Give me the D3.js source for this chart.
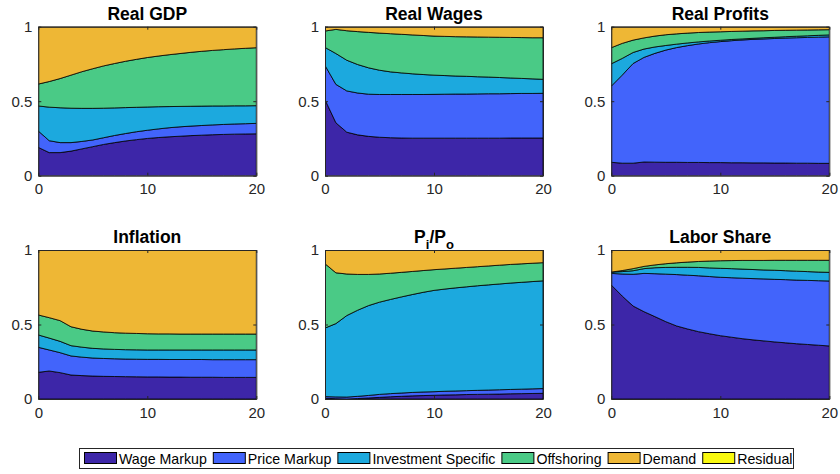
<!DOCTYPE html>
<html>
<head>
<meta charset="utf-8">
<script src="https://cdn.jsdelivr.net/npm/d3@7"></script>
<style>
  body { margin: 0; background: #fff; }
  svg text { font-family: "Liberation Sans", Arial, Helvetica, sans-serif; }
</style>
</head>
<body>
<svg id="chart" width="840" height="474"></svg>
<script>
  // horizon (quarters) and the decomposition shares
  var horizon = [0, 1, 2, 3, 4, 5, 6, 7, 8, 9, 10, 11, 12, 13, 14, 15, 16, 17, 18, 19, 20];
  var seriesNames = ['Wage Markup', 'Price Markup', 'Investment Specific', 'Offshoring', 'Demand', 'Residual'];
  var seriesColors = ['#3d26a8', '#4264fb', '#1ca9de', '#4aca86', '#eeb735', '#f9f90f'];
  var panelTitles = ['Real GDP', 'Real Wages', 'Real Profits', 'Inflation', 'P_i/P_o', 'Labor Share'];
  var xTicks = [0, 10, 20];
  var yTicks = [0, 0.5, 1];

  var residual = [0, 0, 0, 0, 0, 0, 0, 0, 0, 0, 0, 0, 0, 0, 0, 0, 0, 0, 0, 0, 0];

  var realGdp = [
    [0.19, 0.155, 0.155, 0.165, 0.18, 0.195, 0.21, 0.222, 0.233, 0.242, 0.25, 0.256, 0.261, 0.265, 0.269, 0.272, 0.275, 0.277, 0.279, 0.28, 0.281],
    [0.11, 0.08, 0.067, 0.057, 0.05, 0.045, 0.045, 0.048, 0.05, 0.053, 0.055, 0.058, 0.061, 0.063, 0.064, 0.065, 0.066, 0.067, 0.068, 0.069, 0.07],
    [0.168, 0.225, 0.234, 0.231, 0.222, 0.212, 0.198, 0.185, 0.174, 0.164, 0.156, 0.149, 0.142, 0.137, 0.133, 0.13, 0.127, 0.124, 0.122, 0.12, 0.119],
    [0.147, 0.172, 0.196, 0.222, 0.246, 0.266, 0.284, 0.298, 0.311, 0.322, 0.332, 0.34, 0.348, 0.355, 0.362, 0.368, 0.373, 0.378, 0.382, 0.386, 0.389],
    [0.385, 0.368, 0.348, 0.325, 0.302, 0.282, 0.263, 0.247, 0.232, 0.219, 0.207, 0.197, 0.188, 0.18, 0.172, 0.165, 0.159, 0.154, 0.149, 0.145, 0.141],
    residual
  ];

  var realWages = [
    [0.51, 0.355, 0.292, 0.274, 0.264, 0.258, 0.255, 0.253, 0.252, 0.252, 0.252, 0.252, 0.252, 0.252, 0.252, 0.252, 0.252, 0.253, 0.253, 0.253, 0.253],
    [0.23, 0.258, 0.277, 0.281, 0.283, 0.287, 0.29, 0.292, 0.293, 0.293, 0.294, 0.295, 0.296, 0.296, 0.297, 0.298, 0.298, 0.298, 0.299, 0.299, 0.3],
    [0.121, 0.207, 0.206, 0.191, 0.177, 0.163, 0.152, 0.145, 0.139, 0.134, 0.129, 0.125, 0.121, 0.119, 0.115, 0.112, 0.109, 0.105, 0.101, 0.098, 0.094],
    [0.11, 0.162, 0.198, 0.221, 0.238, 0.249, 0.256, 0.259, 0.261, 0.262, 0.262, 0.263, 0.264, 0.265, 0.267, 0.268, 0.27, 0.272, 0.274, 0.276, 0.279],
    [0.029, 0.018, 0.027, 0.033, 0.038, 0.043, 0.047, 0.051, 0.055, 0.059, 0.063, 0.065, 0.067, 0.068, 0.069, 0.07, 0.071, 0.072, 0.073, 0.074, 0.074],
    residual
  ];

  var realProfits = [
    [0.09, 0.084, 0.084, 0.092, 0.091, 0.09, 0.09, 0.089, 0.089, 0.088, 0.088, 0.087, 0.087, 0.086, 0.086, 0.085, 0.085, 0.084, 0.084, 0.083, 0.083],
    [0.511, 0.591, 0.669, 0.702, 0.73, 0.753, 0.77, 0.784, 0.795, 0.805, 0.812, 0.819, 0.824, 0.829, 0.832, 0.836, 0.839, 0.842, 0.844, 0.847, 0.849],
    [0.15, 0.112, 0.074, 0.056, 0.043, 0.031, 0.023, 0.018, 0.014, 0.011, 0.009, 0.008, 0.007, 0.007, 0.008, 0.008, 0.009, 0.01, 0.011, 0.012, 0.013],
    [0.108, 0.101, 0.083, 0.075, 0.073, 0.072, 0.069, 0.066, 0.063, 0.06, 0.057, 0.054, 0.052, 0.05, 0.047, 0.046, 0.043, 0.041, 0.039, 0.037, 0.035],
    [0.141, 0.112, 0.09, 0.075, 0.063, 0.054, 0.048, 0.043, 0.039, 0.036, 0.034, 0.032, 0.03, 0.028, 0.027, 0.025, 0.024, 0.023, 0.022, 0.021, 0.02],
    residual
  ];

  var inflation = [
    [0.179, 0.188, 0.177, 0.161, 0.157, 0.154, 0.152, 0.151, 0.15, 0.149, 0.148, 0.148, 0.147, 0.147, 0.146, 0.146, 0.146, 0.145, 0.145, 0.145, 0.145],
    [0.168, 0.141, 0.134, 0.128, 0.124, 0.121, 0.12, 0.119, 0.118, 0.118, 0.118, 0.118, 0.118, 0.118, 0.119, 0.119, 0.118, 0.119, 0.119, 0.119, 0.119],
    [0.083, 0.08, 0.076, 0.069, 0.067, 0.065, 0.064, 0.063, 0.063, 0.063, 0.063, 0.063, 0.064, 0.064, 0.064, 0.064, 0.065, 0.065, 0.065, 0.065, 0.065],
    [0.134, 0.137, 0.139, 0.127, 0.12, 0.116, 0.114, 0.112, 0.111, 0.11, 0.109, 0.108, 0.108, 0.107, 0.107, 0.107, 0.107, 0.107, 0.107, 0.107, 0.107],
    [0.436, 0.454, 0.474, 0.515, 0.532, 0.544, 0.55, 0.555, 0.558, 0.56, 0.562, 0.563, 0.563, 0.564, 0.564, 0.564, 0.564, 0.564, 0.564, 0.564, 0.564],
    residual
  ];

  var relPrice = [
    [0.005, 0.002, 0.0, 0.003, 0.007, 0.011, 0.015, 0.018, 0.021, 0.023, 0.025, 0.027, 0.028, 0.03, 0.031, 0.032, 0.033, 0.035, 0.036, 0.037, 0.038],
    [0.011, 0.012, 0.013, 0.015, 0.017, 0.02, 0.021, 0.022, 0.023, 0.024, 0.024, 0.025, 0.026, 0.026, 0.027, 0.028, 0.029, 0.029, 0.03, 0.031, 0.032],
    [0.46, 0.492, 0.547, 0.578, 0.603, 0.619, 0.632, 0.645, 0.657, 0.669, 0.68, 0.686, 0.692, 0.697, 0.702, 0.706, 0.71, 0.714, 0.717, 0.72, 0.723],
    [0.432, 0.341, 0.279, 0.24, 0.209, 0.189, 0.176, 0.165, 0.155, 0.146, 0.139, 0.135, 0.132, 0.13, 0.128, 0.127, 0.126, 0.125, 0.124, 0.123, 0.122],
    [0.092, 0.153, 0.161, 0.164, 0.164, 0.161, 0.156, 0.15, 0.144, 0.138, 0.132, 0.127, 0.122, 0.117, 0.112, 0.107, 0.102, 0.097, 0.093, 0.089, 0.085],
    residual
  ];

  var laborShare = [
    [0.765, 0.691, 0.624, 0.586, 0.553, 0.519, 0.49, 0.47, 0.452, 0.438, 0.425, 0.415, 0.405, 0.397, 0.39, 0.383, 0.377, 0.371, 0.366, 0.361, 0.356],
    [0.078, 0.148, 0.213, 0.257, 0.288, 0.319, 0.345, 0.361, 0.375, 0.384, 0.392, 0.399, 0.406, 0.411, 0.416, 0.42, 0.424, 0.427, 0.43, 0.433, 0.436],
    [0.009, 0.016, 0.024, 0.032, 0.04, 0.045, 0.049, 0.053, 0.056, 0.058, 0.06, 0.061, 0.061, 0.061, 0.06, 0.061, 0.06, 0.06, 0.059, 0.058, 0.058],
    [0.0, 0.007, 0.014, 0.015, 0.019, 0.025, 0.03, 0.035, 0.04, 0.046, 0.051, 0.054, 0.058, 0.061, 0.064, 0.067, 0.07, 0.073, 0.076, 0.079, 0.081],
    [0.148, 0.138, 0.125, 0.11, 0.1, 0.092, 0.086, 0.081, 0.077, 0.074, 0.072, 0.071, 0.07, 0.07, 0.07, 0.069, 0.069, 0.069, 0.069, 0.069, 0.069],
    residual
  ];

  var panels = [realGdp, realWages, realProfits, inflation, relPrice, laborShare];

  // layout
  var colX = [38.3, 325, 611.3];
  var rowY = [26.7, 250];
  var plotW = 218, plotH = 149;
  var axisColor = '#262626';

  var svg = d3.select('#chart');

  var x = d3.scaleLinear().domain([0, 20]).range([0, plotW]);
  var y = d3.scaleLinear().domain([0, 1]).range([plotH, 0]);

  var stack = d3.stack()
    .keys(d3.range(seriesNames.length))
    .value(function(d, k) { return d.vals[k]; });

  var area = d3.area()
    .x(function(d) { return x(d.data.h); })
    .y0(function(d) { return y(d[0]); })
    .y1(function(d) { return y(d[1]); });

  panels.forEach(function(panel, p) {
    var g, rows, layers, title;
    g = svg.append('g')
      .attr('transform', 'translate(' + colX[p % 3] + ',' + rowY[Math.floor(p / 3)] + ')');

    g.append('clipPath').attr('id', 'clip' + p)
      .append('rect').attr('width', plotW).attr('height', plotH);

    rows = horizon.map(function(h, i) {
      return { h: h, vals: panel.map(function(s) { return s[i]; }) };
    });
    layers = stack(rows);

    g.append('g').attr('clip-path', 'url(#clip' + p + ')')
      .selectAll('path').data(layers).enter().append('path')
      .attr('d', area)
      .style('fill', function(d) { return seriesColors[d.key]; })
      .style('stroke', '#000')
      .style('stroke-width', 0.8)
      .style('stroke-linejoin', 'round');

    // box with inward ticks on all four sides
    g.append('g').attr('transform', 'translate(0,' + plotH + ')')
      .call(d3.axisBottom(x).tickValues(xTicks).tickSizeInner(-3).tickSizeOuter(0).tickPadding(8));
    g.append('g')
      .call(d3.axisTop(x).tickValues(xTicks).tickSizeInner(-3).tickSizeOuter(0).tickFormat(''));
    g.append('g')
      .call(d3.axisLeft(y).tickValues(yTicks).tickSizeInner(-3).tickSizeOuter(0).tickPadding(6)
        .tickFormat(function(d) { return d === 0.5 ? '0.5' : d3.format('d')(d); }));
    g.append('g').attr('transform', 'translate(' + plotW + ',0)')
      .call(d3.axisRight(y).tickValues(yTicks).tickSizeInner(-3).tickSizeOuter(0).tickFormat(''));

    g.selectAll('.domain').style('stroke', axisColor).style('stroke-width', 1);
    g.selectAll('.tick line').style('stroke', axisColor).style('stroke-width', 1);
    g.selectAll('.tick text')
      .style('font-size', '15px')
      .style('fill', axisColor);

    title = g.append('text')
      .attr('x', plotW / 2)
      .attr('y', -6.7)
      .attr('text-anchor', 'middle')
      .style('font-size', '17.5px')
      .style('font-weight', 'bold')
      .style('fill', '#000');
    if (panelTitles[p] === 'P_i/P_o') {
      title.append('tspan').text('P');
      title.append('tspan').attr('dy', 6).style('font-size', '13px').text('i');
      title.append('tspan').attr('dy', -6).text('/P');
      title.append('tspan').attr('dy', 6).style('font-size', '13px').text('o');
    } else {
      title.text(panelTitles[p]);
    }
  });

  // legend
  var legend = svg.append('g');
  legend.append('rect')
    .attr('x', 79.5).attr('y', 448.5)
    .attr('width', 714).attr('height', 20)
    .style('fill', '#fff').style('stroke', axisColor).style('stroke-width', 1);

  var cursor = 84;
  seriesNames.forEach(function(name, i) {
    var label;
    legend.append('rect')
      .attr('x', cursor + 0.5).attr('y', 452.5)
      .attr('width', 32).attr('height', 11)
      .style('fill', seriesColors[i])
      .style('stroke', '#000').style('stroke-width', 1);
    label = legend.append('text')
      .attr('x', cursor + 35)
      .attr('y', 463.5)
      .style('font-size', '14.2px')
      .style('fill', '#000')
      .text(name);
    cursor = cursor + 35 + label.node().getComputedTextLength() + 6;
  });
</script>
</body>
</html>
